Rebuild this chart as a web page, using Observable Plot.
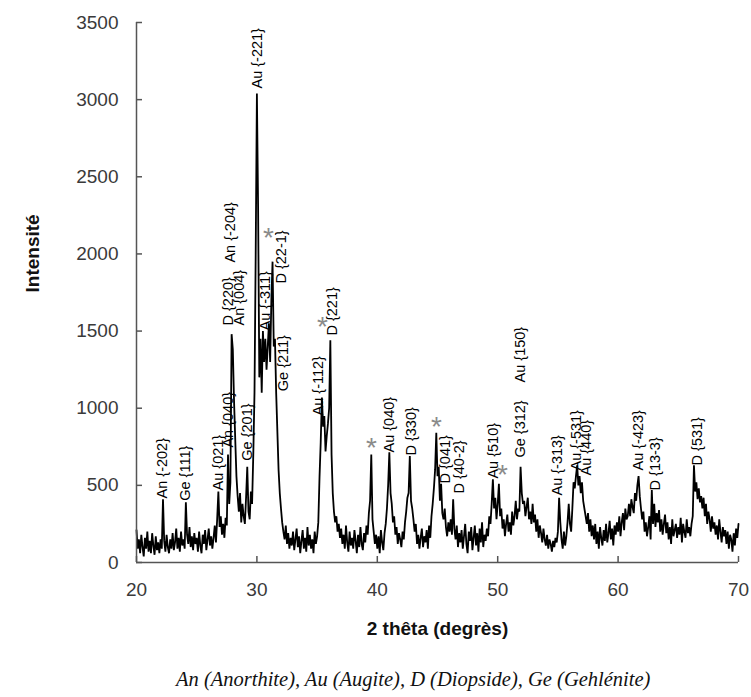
<!DOCTYPE html>
<html>
<head>
<meta charset="utf-8">
<script src="https://cdn.jsdelivr.net/npm/d3@7"></script>
<script src="https://cdn.jsdelivr.net/npm/@observablehq/plot@0.6"></script>
<style>
  body { margin: 0; background: #fff; width: 751px; height: 697px; position: relative; overflow: hidden; }
  #chart { position: absolute; left: 0; top: 0; }
  #caption { position: absolute; left: 176px; top: 668px; white-space: nowrap;
             font-family: "Liberation Serif", serif; font-style: italic; font-size: 20.5px; color: #111; }
</style>
</head>
<body>
<div id="chart"></div>
<div id="caption">An (Anorthite), Au (Augite), D (Diopside), Ge (Gehlénite)</div>
<script>
// 2θ sampling: start and step of the scan
const thetaStart = 20;
const thetaStep = 0.1;

// Intensity, one row per degree (n.0 … n.9)
const intensity = [
  210, 90, 150, 60, 180, 100, 40, 160, 90, 200,        // 20
  70, 140, 60, 190, 110, 50, 170, 80, 130, 60,         // 21
  150, 90, 410, 140, 70, 180, 100, 60, 150, 90,        // 22
  190, 80, 130, 220, 90, 160, 70, 200, 110, 150,       // 23
  90, 390, 180, 120, 230, 100, 170, 80, 190, 120,      // 24
  160, 70, 200, 110, 60, 180, 120, 210, 80, 150,       // 25
  220, 110, 170, 90, 160, 240, 130, 280, 460, 230,     // 26
  300, 180, 250, 160, 290, 240, 700, 380, 520, 1480,   // 27
  1380, 1050, 800, 560, 430, 330, 450, 260, 380, 300,  // 28
  250, 420, 620, 330, 280, 460, 380, 700, 1100, 2000,  // 29
  3040, 2300, 1200, 1450, 1100, 1500, 1300, 1450, 1250, 1400, // 30
  1550, 1300, 1700, 1950, 1400, 1450, 1100, 850, 600, 450,    // 31
  350, 260, 200, 150, 240, 120, 190, 90, 160, 110,     // 32
  200, 80, 150, 220, 100, 170, 60, 140, 210, 90,       // 33
  160, 70, 230, 110, 180, 90, 150, 60, 200, 120,       // 34
  170, 260, 550, 780, 1070, 880, 950, 720, 820, 900,   // 35
  1000, 1440, 700, 450, 330, 260, 300, 200, 250, 160,  // 36
  220, 120, 180, 90, 240, 130, 70, 200, 110, 160,      // 37
  90, 210, 140, 60, 180, 100, 230, 120, 80, 190,       // 38
  130, 240, 180, 320, 400, 700, 280, 200, 120, 180,    // 39
  90, 170, 60, 210, 130, 80, 190, 250, 350, 500,       // 40
  715, 450, 380, 260, 300, 180, 230, 120, 190, 150,    // 41
  100, 200, 150, 260, 330, 420, 450, 690, 400, 350,    // 42
  280, 200, 250, 120, 180, 90, 160, 220, 100, 170,     // 43
  130, 210, 90, 240, 160, 300, 380, 480, 600, 840,     // 44
  560, 620, 400, 510, 320, 280, 350, 230, 170, 260,    // 45
  200, 280, 180, 410, 220, 150, 240, 100, 190, 130,    // 46
  210, 90, 170, 250, 120, 60, 200, 140, 230, 80,       // 47
  160, 240, 110, 190, 70, 220, 130, 260, 100, 180,     // 48
  140, 220, 170, 300, 250, 380, 540, 350, 420, 280,    // 49
  380, 510, 300, 350, 220, 280, 170, 250, 310, 200,    // 50
  260, 180, 330, 240, 300, 400, 280, 350, 330, 620,    // 51
  450, 380, 400, 300, 360, 420, 280, 330, 250, 380,    // 52
  260, 310, 200, 280, 160, 240, 190, 130, 220, 150,    // 53
  110, 180, 90, 150, 120, 70, 140, 100, 160, 130,      // 54
  200, 420, 260, 150, 90, 200, 110, 170, 260, 380,     // 55
  250, 200, 350, 520, 480, 560, 630, 500, 560, 450,    // 56
  520, 400, 350, 300, 250, 320, 200, 280, 170, 240,    // 57
  150, 250, 120, 200, 90, 230, 160, 110, 210, 140,     // 58
  250, 130, 190, 270, 150, 220, 110, 240, 180, 260,    // 59
  200, 300, 170, 260, 320, 210, 350, 280, 300, 380,    // 60
  300, 410, 360, 320, 450, 400, 500, 560, 430, 350,    // 61
  280, 330, 200, 260, 170, 230, 300, 150, 470, 250,    // 62
  380, 230, 320, 260, 340, 200, 280, 180, 250, 310,    // 63
  190, 260, 150, 230, 120, 280, 170, 210, 250, 160,    // 64
  230, 180, 290, 130, 250, 200, 160, 280, 190, 230,    // 65
  170, 250, 300, 630, 460, 520, 410, 480, 390, 430,    // 66
  350, 420, 300, 380, 250, 330, 280, 200, 300, 220,    // 67
  260, 180, 240, 150, 280, 200, 130, 230, 170, 210,    // 68
  120, 200, 90, 180, 150, 70, 190, 110, 220, 160,      // 69
  250                                                  // 70
];

// Peak labels (phase + Miller indices), their 2θ and the intensity at the label's foot
const peakNames = ["An {-202}", "Ge {111}", "Au {021}", "An {040}", "Ge {201}", "D {220}", "An {-204}", "An {004}",
  "Au {-221}", "Au {-311}", "Ge {211}", "D {22-1}", "Au {-112}", "D {221}", "Au {040}", "D {330}", "D {041}",
  "D {40-2}", "Au {510}", "Ge {312}", "Au {150}", "Au {-313}", "Au {-531}", "Au {440}", "Au {-423}", "D {13-3}", "D {531}"];
const peakTheta = [22.16, 24.07, 26.8, 27.64, 29.2, 27.64, 27.8, 28.55,
  30.05, 30.7, 32.2, 32.04, 35.1, 36.28, 41.0, 42.84, 45.66,
  46.83, 49.65, 51.9, 51.9, 54.97, 56.54, 57.38, 61.7, 63.1, 66.6];
const peakLabelBase = [415, 400, 467, 745, 660, 1536, 1944, 1536,
  3072, 1504, 1110, 1808, 953, 1471, 713, 693, 512,
  447, 544, 680, 1167, 434, 596, 564, 596, 467, 629];

// Unidentified peaks marked with an asterisk
const starTheta = [30.96, 35.45, 39.52, 44.92, 50.4];
const starIntensity = [2152, 1581, 791, 933, 622];

const xTicks = [20, 30, 40, 50, 60, 70];
const yTicks = [0, 500, 1000, 1500, 2000, 2500, 3000, 3500];

const pattern = intensity.map((v, i) => ({theta: thetaStart + i * thetaStep, v}));
const peaks = peakNames.map((name, i) => ({name, theta: peakTheta[i], y: peakLabelBase[i]}));
const stars = starTheta.map((t, i) => ({theta: t, y: starIntensity[i]}));

const axisColor = "#555";
const chart = Plot.plot({
  width: 751,
  height: 655,
  marginLeft: 136,
  marginRight: 13,
  marginTop: 22,
  marginBottom: 93,
  style: {fontFamily: "'Liberation Sans', Arial, sans-serif", background: "white", overflow: "visible"},
  x: {domain: [20, 70]},
  y: {domain: [0, 3500]},
  marks: [
    Plot.line(pattern, {x: "theta", y: "v", stroke: "black", strokeWidth: 1.8, strokeLinejoin: "miter"}),
    Plot.ruleY([0], {stroke: axisColor, strokeWidth: 1.5}),
    Plot.ruleX([20], {stroke: axisColor, strokeWidth: 1.5}),
    Plot.axisX({ticks: xTicks, tickSize: 0, tickPadding: 20, fontSize: 19, fill: "#3a3a3a", label: null}),
    Plot.axisX({ticks: xTicks, tickSize: 6, dy: -6, tickFormat: () => "", label: null, stroke: axisColor, strokeWidth: 1.5}),
    Plot.axisY({ticks: yTicks, tickSize: 0, tickPadding: 18, fontSize: 19, fill: "#3a3a3a", label: null, tickFormat: d => String(d)}),
    Plot.axisY({ticks: yTicks, tickSize: 6, dx: 6, tickFormat: () => "", label: null, stroke: axisColor, strokeWidth: 1.5}),
    Plot.text(peaks, {x: "theta", y: "y", text: "name", rotate: -90, textAnchor: "start", lineAnchor: "middle",
      fontSize: 14.5, fill: "black"}),
    Plot.text(stars, {x: "theta", y: "y", text: () => "*", fontSize: 28, fill: "#8a8a8a", lineAnchor: "middle", dy: 8}),
    Plot.text(["2 thêta (degrès)"], {frameAnchor: "bottom", dy: 72, fontSize: 19, fontWeight: "bold", fill: "#111"}),
    Plot.text(["Intensité"], {frameAnchor: "left", dx: -104, rotate: -90, fontSize: 19, fontWeight: "bold", fill: "#111"})
  ]
});
document.getElementById("chart").append(chart);
</script>
</body>
</html>
